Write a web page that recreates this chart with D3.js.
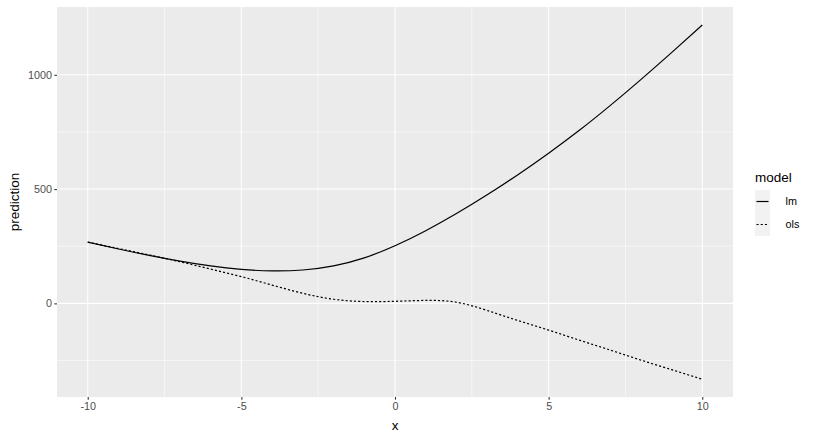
<!DOCTYPE html>
<html><head><meta charset="utf-8">
<script src="https://cdn.jsdelivr.net/npm/d3@7"></script>
<style>body{margin:0;background:#fff}svg{display:block}text{font-family:"Liberation Sans",Arial,Helvetica,sans-serif}</style>
</head><body><div id="chart"></div>
<script>
const xs = [-10,-9,-8,-7,-6,-5,-4,-3,-2,-1,0,1,2,3,4,5,6,7,8,9,10];
const lmValues = [268,238,210,185,164,149,142,146,164,199,252,318,393,475,563,657,757,865,979,1097,1218];
const olsValues = [268,240,212,182,150,117,80,44,18,8,9,13,5,-31,-75,-117,-161,-204,-248,-290,-332];
const seriesNames = ["lm","ols"];
const xTicks = [-10,-5,0,5,10];
const xMinor = [-7.5,-2.5,2.5,7.5];
const yTicks = [0,500,1000];
const yMinor = [-250,250,750];

const W = 815, H = 439;
const panel = {l:57, t:7, r:733, b:397};
const svg = d3.select("#chart").append("svg").attr("width",W).attr("height",H);

const x = d3.scaleLinear().domain([-11,11]).range([panel.l,panel.r]);
const yMin = -332, yMax = 1219, pad = (yMax-yMin)*0.05;
const y = d3.scaleLinear().domain([yMin-pad,yMax+pad]).range([panel.b,panel.t]);

svg.append("rect").attr("x",panel.l).attr("y",panel.t).attr("width",panel.r-panel.l).attr("height",panel.b-panel.t).attr("fill","#EBEBEB");

const g = svg.append("g");
xMinor.forEach(v=>g.append("line").attr("x1",x(v)).attr("x2",x(v)).attr("y1",panel.t).attr("y2",panel.b).attr("stroke","#fff").attr("stroke-width",0.53));
yMinor.forEach(v=>g.append("line").attr("y1",y(v)).attr("y2",y(v)).attr("x1",panel.l).attr("x2",panel.r).attr("stroke","#fff").attr("stroke-width",0.53));
xTicks.forEach(v=>g.append("line").attr("x1",x(v)).attr("x2",x(v)).attr("y1",panel.t).attr("y2",panel.b).attr("stroke","#fff").attr("stroke-width",1.07));
yTicks.forEach(v=>g.append("line").attr("y1",y(v)).attr("y2",y(v)).attr("x1",panel.l).attr("x2",panel.r).attr("stroke","#fff").attr("stroke-width",1.07));

// axes
const xAxis = d3.axisBottom(x).tickValues(xTicks).tickSize(2.7).tickPadding(2.2).tickFormat(d3.format("d"));
const xa = svg.append("g").attr("transform",`translate(0,${panel.b})`).call(xAxis);
const yAxis = d3.axisLeft(y).tickValues(yTicks).tickSize(2.7).tickPadding(2.2).tickFormat(d3.format("d"));
const ya = svg.append("g").attr("transform",`translate(${panel.l},0)`).call(yAxis);
[xa,ya].forEach(a=>{
  a.select(".domain").remove();
  a.selectAll(".tick line").attr("stroke","#333333").attr("stroke-width",1.07);
  a.selectAll(".tick text").attr("fill","#4D4D4D").attr("font-size",10.8).text(d=>d<0?"-"+Math.abs(d):d);
});

// lines
const data = [lmValues, olsValues];
const line = d3.line().x((d,i)=>x(xs[i])).y(d=>y(d)).curve(d3.curveNatural);
const dashes = [null,"2.1,2.1"];
data.forEach((vals,k)=>{
  svg.append("path").attr("d",line(vals)).attr("fill","none").attr("stroke","#000").attr("stroke-width",1.2).attr("stroke-dasharray",dashes[k]);
});

// axis titles
svg.append("text").attr("x",(panel.l+panel.r)/2).attr("y",430).attr("text-anchor","middle").attr("font-size",13.5).attr("fill","#000").text("x");
svg.append("text").attr("transform",`translate(19,${(panel.t+panel.b)/2}) rotate(-90)`).attr("text-anchor","middle").attr("font-size",13.5).attr("fill","#000").text("prediction");

// legend
const lg = svg.append("g");
lg.append("text").attr("x",755).attr("y",182).attr("font-size",13.5).attr("fill","#000").text("model");
seriesNames.forEach((s,i)=>{
  const cy = 201.5 + i*23;
  lg.append("rect").attr("x",755).attr("y",cy-11.5).attr("width",15).attr("height",23).attr("fill","#F2F2F2");
  lg.append("line").attr("x1",756.5).attr("x2",768.5).attr("y1",cy).attr("y2",cy).attr("stroke","#000").attr("stroke-width",1.2).attr("stroke-dasharray",dashes[i]);
  lg.append("text").attr("x",785.5).attr("y",cy+3.8).attr("font-size",10.8).attr("fill","#000").text(s);
});
</script></body></html>
